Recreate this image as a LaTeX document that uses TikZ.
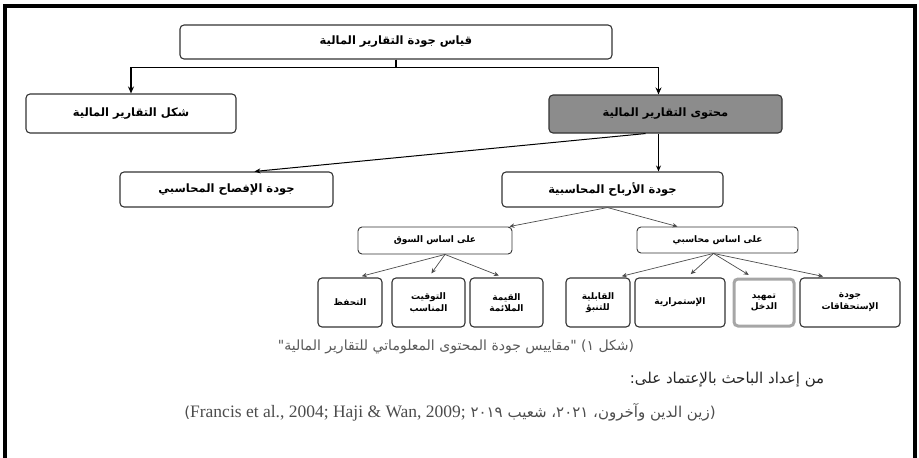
\documentclass[tikz,border=0pt]{standalone}
\usepackage{fontspec}
\setmainfont{Liberation Serif}
\newfontfamily\arabicfont[Script=Arabic]{DejaVu Sans}
\TeXXeTstate=1
\usetikzlibrary{arrows.meta}
\newcommand{\artxt}[1]{{\arabicfont\beginR #1\endR}}

\begin{document}
\begin{tikzpicture}[x=1pt,y=-1pt,
  box/.style={draw=black!80, rounded corners=4pt, line width=1.1pt, align=center, inner sep=1pt,
    font=\arabicfont\bfseries\fontsize{11.5}{13}\selectfont},
  leaf/.style={box, minimum height=49pt, font=\arabicfont\bfseries\fontsize{9}{11.5}\selectfont},
  mainarrow/.style={line width=1.3pt, -{Stealth[length=7pt,width=6pt]}},
  subarrow/.style={draw=black!70, line width=0.7pt, -{Stealth[length=5pt,width=4.5pt]}, shorten >=5pt}]
\useasboundingbox (0,0) rectangle (919,458);
\draw[line width=3.5pt] (5,458) -- (5,6) -- (915,6) -- (915,458);

% levels 1 and 2
\node[box, minimum width=432pt, minimum height=34pt] (qiyas) at (396,42) {\artxt{قياس جودة التقارير المالية}};
\node[box, minimum width=210pt, minimum height=39pt] (shakl) at (131,113.5) {\artxt{شكل التقارير المالية}};
\node[box, fill=black!45, minimum width=233pt, minimum height=38pt] (muhtawa) at (665.5,114) {\artxt{محتوى التقارير المالية}};

\draw[mainarrow] (qiyas.south) -- ++(0,8) -| (shakl.north);
\draw[mainarrow] (qiyas.south) -- ++(0,8) -| ([xshift=-7pt]muhtawa.north);

% level 3
\node[box, minimum width=213pt, minimum height=35pt] (ifsah) at (226.5,189.5) {\artxt{جودة الإفصاح المحاسبي}};
\node[box, minimum width=221pt, minimum height=35pt] (arbah) at (612.5,189.5) {\artxt{جودة الأرباح المحاسبية}};

\draw[line width=1pt, -{Stealth[length=6pt,width=5pt]}] ([xshift=-20pt]muhtawa.south) -- ([xshift=28pt]ifsah.north);
\draw[line width=1pt, -{Stealth[length=6pt,width=5pt]}] ([xshift=-7pt]muhtawa.south) -- ([xshift=-7pt]muhtawa.south |- arbah.north);

% level 4
\node[box, line width=0.9pt, minimum width=154pt, minimum height=27pt, font=\arabicfont\bfseries\fontsize{9}{10}\selectfont] (souq) at (435,240.5) {\artxt{على اساس السوق}};
\node[box, line width=0.9pt, minimum width=161pt, minimum height=26pt, font=\arabicfont\bfseries\fontsize{9}{10}\selectfont] (muhasabi) at (717.5,240) {\artxt{على اساس محاسبي}};

\draw[subarrow, shorten >=0pt] ([xshift=-5pt]arbah.south) -- ([xshift=-3pt]souq.north east);
\draw[subarrow, shorten >=0pt] ([xshift=-5pt]arbah.south) -- ([xshift=-40pt]muhasabi.north);

% leaves
\node[leaf, minimum width=64pt] (tahaffuz) at (350,302.5) {\artxt{التحفظ}};
\node[leaf, minimum width=73pt] (tawqit) at (428.5,302.5) {\artxt{التوقيت}\\\artxt{المناسب}};
\node[leaf, minimum width=73pt] (qima) at (506.5,302.5) {\artxt{القيمة}\\\artxt{الملائمة}};
\node[leaf, minimum width=64pt] (qabiliya) at (598,302.5) {\artxt{القابلية}\\\artxt{للتنبؤ}};
\node[leaf, minimum width=90pt] (istimrar) at (680,302.5) {\artxt{الإستمرارية}};
\node[leaf, draw=black!35, line width=3pt, minimum width=60pt, minimum height=47pt] (tamhid) at (764,302.5) {\artxt{تمهيد}\\\artxt{الدخل}};
\node[leaf, minimum width=100pt] (istihqaq) at (850,302.5) {\artxt{جودة}\\\artxt{الإستحقاقات}};

\foreach \leafname/\dx in {tahaffuz/7, tawqit/0, qima/-3}
  \draw[subarrow] ([xshift=10pt]souq.south) -- ([xshift=\dx pt]\leafname.north);
\foreach \leafname/\dx in {qabiliya/19, istimrar/7, tamhid/-11, istihqaq/-22}
  \draw[subarrow] ([xshift=-4pt]muhasabi.south) -- ([xshift=\dx pt]\leafname.north);

% caption and sources
\node[text=black!65, font=\arabicfont\fontsize{14}{16}\selectfont] (caption) at (456,347) {\artxt{(شكل ١) "مقاييس جودة المحتوى المعلوماتي للتقارير المالية"}};
\node[text=black!85, font=\arabicfont\fontsize{15}{17}\selectfont] (source) at (727,380) {\artxt{من إعداد الباحث بالإعتماد على:}};
\node[text=black!70, font=\arabicfont\fontsize{15}{17}\selectfont] (refs) at (450,412) {\artxt{(زين الدين وآخرون، ٢٠٢١، شعيب ٢٠١٩ \beginL{\rmfamily\fontsize{17.5}{19}\selectfont Francis et al., 2004; Haji \& Wan, 2009;}\endL)}};
\end{tikzpicture}
\end{document}
